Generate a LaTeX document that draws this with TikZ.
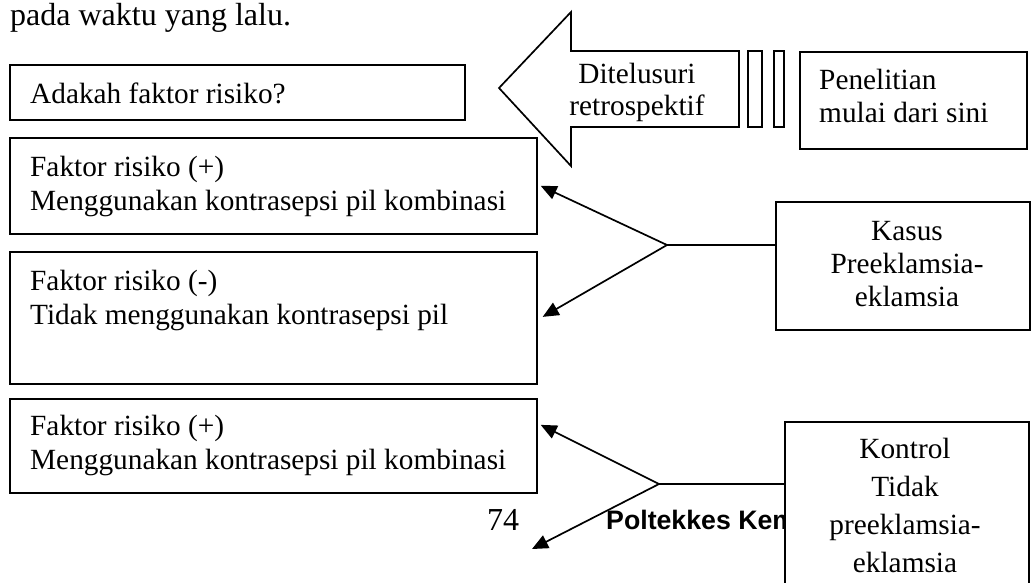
\documentclass[tikz,border=0pt]{standalone}
\usepackage{fontspec}
\setmainfont{Liberation Serif}
\newfontfamily\arialfont{Liberation Sans}
\usetikzlibrary{arrows.meta,calc}
\begin{document}
\begin{tikzpicture}[x=1pt,y=-1pt,
  box/.style={draw,line width=1.7pt,inner sep=0pt,fill=white,anchor=north west},
  lbl/.style={anchor=base west,inner sep=0pt,font=\fontsize{29.3}{33.7}\selectfont},
  ctr/.style={anchor=base,inner sep=0pt,font=\fontsize{29.3}{33.7}\selectfont},
  conn/.style={line width=1.7pt},
  arr/.style={conn,-{Triangle[length=16pt,width=14pt]}}]
\useasboundingbox (0,0) rectangle (1035,582);
\fill[white] (0,0) rectangle (1035,582);

% intro text
\node[lbl,font=\fontsize{32}{36}\selectfont] (intro) at (10,25) {pada waktu yang lalu.};

% big arrow
\draw[line width=1.7pt,line join=miter] (499,88) -- (571,12) -- (571,51) -- (739,51) -- (739,127) -- (571,127) -- (571,166) -- cycle;
\draw[line width=1.7pt] (748,51) rectangle (762,127);
\draw[line width=1.7pt] (774,51) rectangle (784,127);
\node[ctr] (dit1) at (637,83) {Ditelusuri};
\node[ctr] (dit2) at (637,115) {retrospektif};

% boxes
\node[box,minimum width=455pt,minimum height=55pt] (bA) at (9,64) {};
\node[box,minimum width=527pt,minimum height=96pt] (bB) at (9,137) {};
\node[box,minimum width=527pt,minimum height=132pt] (bC) at (9,251) {};
\node[box,minimum width=527pt,minimum height=94pt] (bD) at (9,398) {};
\node[box,minimum width=227pt,minimum height=97pt] (pen) at (799,51) {};
\node[box,minimum width=254pt,minimum height=128pt] (kasus) at (775,201) {};

\node[lbl] (tA) at (30,103) {Adakah faktor risiko?};
\node[lbl] (tB1) at (30,176) {Faktor risiko (+)};
\node[lbl] (tB2) at (30,210) {Menggunakan kontrasepsi pil kombinasi};
\node[lbl] (tC1) at (30,290) {Faktor risiko (-)};
\node[lbl] (tC2) at (30,324) {Tidak menggunakan kontrasepsi pil};
\node[lbl] (tD1) at (30,435) {Faktor risiko (+)};
\node[lbl] (tD2) at (30,469) {Menggunakan kontrasepsi pil kombinasi};
\node[lbl] (tP1) at (819,89) {Penelitian};
\node[lbl] (tP2) at (819,122) {mulai dari sini};
\node[ctr] (tK1) at (907,240) {Kasus};
\node[ctr] (tK2) at (907,273) {Preeklamsia-};
\node[ctr] (tK3) at (907,306) {eklamsia};

% footer (cut off by the Kontrol box)
\node[lbl,font=\fontsize{32}{36}\selectfont] (page) at (487,530) {74};
\begin{scope}
\clip (0,0) rectangle (783,582);
\node[lbl,font=\arialfont\bfseries\fontsize{26.7}{30}\selectfont] (polt) at (606,529) {Poltekkes Kem};
\end{scope}

% kontrol box
\node[box,minimum width=244pt,minimum height=190pt] (kontrol) at (784,421) {};
\node[ctr] (tN1) at (905,458) {Kontrol};
\node[ctr] (tN2) at (905,496) {Tidak};
\node[ctr] (tN3) at (905,534) {preeklamsia-};
\node[ctr] (tN4) at (905,572) {eklamsia};

% connectors
\coordinate (f1) at (667,245);
\coordinate (f2) at (659,484);
\coordinate (t4) at (532,549);
\draw[conn] (kasus.west |- f1) -- (f1);
\draw[arr] (f1) -- ([xshift=3pt]bB.east);
\draw[arr] (f1) -- ([xshift=5pt,yshift=1pt]bC.east);
\draw[conn] (kontrol.west |- f2) -- (f2);
\draw[arr] (f2) -- ([xshift=3pt,yshift=21pt]bD.east);
\draw[arr] (f2) -- (t4);
\end{tikzpicture}
\end{document}
